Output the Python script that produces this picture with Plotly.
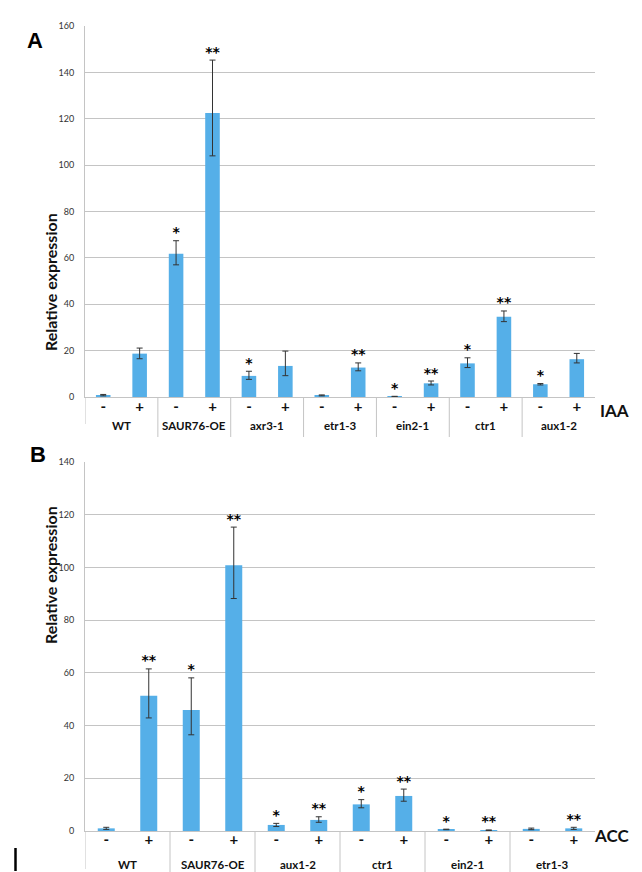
import plotly.graph_objects as go

# ---------------- data ----------------
signs = ["-", "+"]

# Panel A (IAA)
groups_a = ["WT", "SAUR76-OE", "axr3-1", "etr1-3", "ein2-1", "ctr1", "aux1-2"]
vals_a = [0.8, 18.7, 61.8, 122.5, 9.1, 13.4, 0.7, 12.7, 0.2, 5.9, 14.5, 34.6, 5.5, 16.3]
errp_a = [0.3, 2.4, 5.6, 22.8, 2.0, 6.4, 0.2, 2.0, 0.1, 1.0, 2.4, 2.5, 0.3, 2.5]
errm_a = [0.3, 2.2, 4.8, 18.5, 1.5, 4.2, 0.2, 1.4, 0.1, 0.7, 1.8, 2.1, 0.3, 1.6]
sig_a = ["", "", "*", "**", "*", "", "", "**", "*", "**", "*", "**", "*", ""]

# Panel B (ACC)
groups_b = ["WT", "SAUR76-OE", "aux1-2", "ctr1", "ein2-1", "etr1-3"]
vals_b = [1.0, 51.3, 45.9, 100.8, 2.3, 4.2, 10.1, 13.3, 0.6, 0.3, 0.8, 1.0]
errp_b = [0.4, 10.2, 12.2, 14.5, 0.6, 1.2, 1.8, 2.6, 0.1, 0.1, 0.3, 0.4]
errm_b = [0.4, 8.4, 9.4, 12.6, 0.6, 0.9, 1.3, 2.0, 0.1, 0.1, 0.3, 0.4]
sig_b = ["", "**", "*", "**", "*", "**", "*", "**", "*", "**", "", "**"]

yticks_a = list(range(0, 161, 20))
yticks_b = list(range(0, 141, 20))

# ---------------- style ----------------
W, H = 642, 872
BAR = "#55afe8"
GRID = "#c4c4c4"
FONT = "Lato"


def py(px):
    return 1 - px / H


def pxx(px):
    return px / W


fig = go.Figure()
shapes, ann = [], []


def add_panel(groups, vals, errp, errm, sig, xa, ya, label_y, div_len, left_len):
    n = len(vals)
    x = list(range(n))
    fig.add_trace(go.Bar(
        x=x, y=vals, xaxis=xa, yaxis=ya, width=0.4,
        marker=dict(color=BAR, line=dict(width=0)),
        error_y=dict(type="data", symmetric=False, array=errp, arrayminus=errm,
                     color="#333333", thickness=1, width=3),
        showlegend=False,
    ))
    tops = [v + e for v, e in zip(vals, errp)]
    fig.add_trace(go.Scatter(
        x=x, y=tops, xaxis=xa, yaxis=ya, mode="text", text=sig,
        textposition="top center",
        textfont=dict(family="DejaVu Sans", size=14, color="#000000", weight="bold"),
        showlegend=False, cliponaxis=False,
    ))
    for gi, g in enumerate(groups):
        ann.append(dict(text=g, x=gi * len(signs) + (len(signs) - 1) / 2, xref=xa,
                        y=py(label_y), yref="paper", showarrow=False, yanchor="middle",
                        font=dict(family=FONT, size=11.5, color="#111111", weight="bold")))
        left = gi * len(signs) - 0.5
        shapes.append(dict(type="line", xref=xa, yref=ya + " domain", x0=left, x1=left, y0=0,
                           y1=-(left_len if gi == 0 else div_len),
                           line=dict(color=GRID, width=1)))
    return [s for _ in groups for s in signs]


ticktext_a = add_panel(groups_a, vals_a, errp_a, errm_a, sig_a, "x", "y", 418, 40 / 371, 27 / 371)
ticktext_b = add_panel(groups_b, vals_b, errp_b, errm_b, sig_b, "x2", "y2", 856, 47 / 369, 38 / 369)

xdom = [pxx(77), pxx(587)]

xaxis_common = dict(
    showgrid=False, showline=True, linecolor=GRID, linewidth=1, zeroline=False, ticks="",
    tickfont=dict(family=FONT, size=15, color="#111111", weight="bold"),
    automargin=False, fixedrange=True,
)
yaxis_common = dict(
    showgrid=True, gridcolor=GRID, gridwidth=1, showline=True, linecolor=GRID,
    linewidth=1, zeroline=False, ticks="", tickfont=dict(family=FONT, size=9, color="#333333"),
    ticklabelstandoff=8, automargin=False, fixedrange=True,
)

fig.update_layout(
    width=W, height=H, margin=dict(l=0, r=0, t=0, b=0),
    paper_bgcolor="white", plot_bgcolor="white",
    xaxis=dict(domain=xdom, anchor="y", range=[-0.5, len(vals_a) - 0.5],
               tickvals=list(range(len(vals_a))), ticktext=ticktext_a,
               ticklabelstandoff=-4, **xaxis_common),
    yaxis=dict(domain=[py(389), py(18)], anchor="x", range=[0, 160],
               tickvals=yticks_a, **yaxis_common),
    xaxis2=dict(domain=xdom, anchor="y2", range=[-0.5, len(vals_b) - 0.5],
                tickvals=list(range(len(vals_b))), ticktext=ticktext_b,
                ticklabelstandoff=-5, **xaxis_common),
    yaxis2=dict(domain=[py(823), py(454)], anchor="x2", range=[0, 140],
                tickvals=yticks_b, **yaxis_common),
)

for label, yc in [("Relative expression", (18 + 389) / 2), ("Relative expression", (454 + 823) / 2)]:
    ann.append(dict(text=label, x=pxx(31), y=py(yc), xref="paper", yref="paper",
                    textangle=-90, showarrow=False,
                    font=dict(family=FONT, size=16, color="#111111", weight="bold")))
ann.append(dict(text="IAA", x=pxx(590), y=py(402), xref="paper", yref="paper", xanchor="left",
                showarrow=False, font=dict(family=FONT, size=17, color="#111111", weight="bold")))
ann.append(dict(text="ACC", x=pxx(584), y=py(840), xref="paper", yref="paper", xanchor="left",
                showarrow=False, font=dict(family=FONT, size=17, color="#111111", weight="bold")))
ann.append(dict(text="A", x=pxx(17), y=py(18), xref="paper", yref="paper",
                showarrow=False, font=dict(family="Liberation Sans", size=22, color="black", weight="bold")))
ann.append(dict(text="B", x=pxx(20), y=py(446), xref="paper", yref="paper",
                showarrow=False, font=dict(family="Liberation Sans", size=22, color="black", weight="bold")))

shapes.append(dict(type="line", xref="paper", yref="paper", x0=pxx(7.5), x1=pxx(7.5),
                   y0=py(840), y1=py(863), line=dict(color="black", width=2.5)))
fig.update_layout(annotations=ann, shapes=shapes)

fig.write_html("out.html")
